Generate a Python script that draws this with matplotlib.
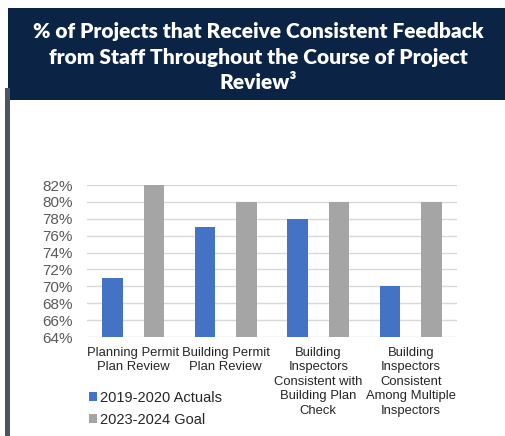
import numpy as np
import matplotlib.pyplot as plt
from matplotlib.patches import Rectangle

categories = ["Planning Permit\nPlan Review", "Building Permit\nPlan Review",
              "Building\nInspectors\nConsistent with\nBuilding Plan\nCheck",
              "Building\nInspectors\nConsistent\nAmong Multiple\nInspectors"]
actuals = [71, 77, 78, 70]
goal = [82, 80, 80, 80]
series_names = ["2019-2020 Actuals", "2023-2024 Goal"]
yticks = [64, 66, 68, 70, 72, 74, 76, 78, 80, 82]

plt.rcParams['font.family'] = ['Liberation Sans', 'DejaVu Sans']

fig = plt.figure(figsize=(5.05, 4.36), dpi=100)

# title banner
fig.patches.append(Rectangle((8/505, 1 - 100/436), 497/505, 92/436, transform=fig.transFigure,
                             facecolor="#0b2345", edgecolor="none", zorder=0))
fig.patches.append(Rectangle((5/505, 0), 5/505, 1 - 88/436, transform=fig.transFigure,
                             facecolor="#4d5361", edgecolor="none", zorder=0))
fig.text(258/505, 1 - 57/436,
         "% of Projects that Receive Consistent Feedback\nfrom Staff Throughout the Course of Project\nReview³",
         ha="center", va="center", color="white", fontsize=15, fontweight="heavy",
         family=["Lato", "DejaVu Sans"], linespacing=1.4)

ax = fig.add_axes([87/505, 99/436, 370/505, 152/436])
x = np.arange(len(categories))
w = 0.224
b1 = ax.bar(x - w, [a - 64 for a in actuals], w, bottom=64, color="#4472C4", zorder=3)
b2 = ax.bar(x + w, [g - 64 for g in goal], w, bottom=64, color="#A5A5A5", zorder=3)

ax.set_xlim(-0.5, 3.5)
ax.set_ylim(64, 82)
ax.set_yticks(yticks)
ax.set_yticklabels([f"{t}%" for t in yticks], color="#595959", fontsize=11)
ax.set_xticks(x)
ax.set_xticklabels(categories, fontsize=9.4, color="#262626", linespacing=1.28)
ax.tick_params(length=0, axis="both")
ax.tick_params(axis="x", pad=7)
ax.tick_params(axis="y", pad=10)
ax.grid(axis="y", color="#D9D9D9", linewidth=1, zorder=0)
for s in ax.spines.values():
    s.set_visible(False)

fig.legend([b1, b2], series_names, loc="upper left", bbox_to_anchor=(89/505, 1 - 391/436),
           frameon=False, fontsize=10.5, handlelength=0.55, handleheight=0.55, handletextpad=0.2,
           labelspacing=0.55, borderpad=0, borderaxespad=0, labelcolor="#262626")

fig.savefig("out.png", dpi=100)
